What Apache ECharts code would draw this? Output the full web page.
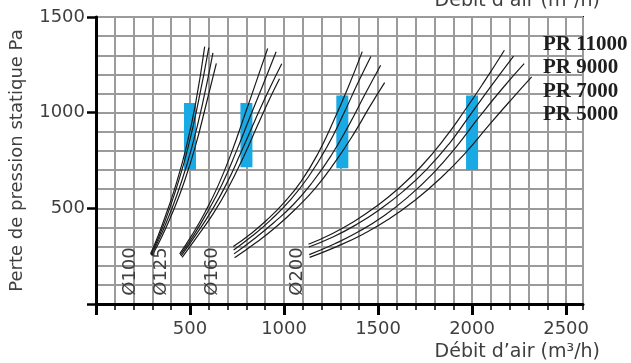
<!DOCTYPE html>
<html>
<head>
<meta charset="utf-8">
<script src="https://cdn.jsdelivr.net/npm/echarts@6/dist/echarts.min.js"></script>
<style>
  html, body { margin: 0; padding: 0; background: #fff; }
  #chart { width: 631px; height: 363px; }
</style>
</head>
<body>
<div id="chart"></div>
<script>
// etiquettes
var prLabels = ["PR 11000", "PR 9000", "PR 7000", "PR 5000"];
var diamLabels = ["Ø100", "Ø125", "Ø160", "Ø200"];
var xMajorTicks = [0, 500, 1000, 1500, 2000, 2500];
var yMajorTicks = [0, 500, 1000, 1500];

// courbes [débit m3/h, pression Pa]
var d100_pr11000 = [[290, 262], [330, 355], [380, 490], [430, 640], [480, 820], [530, 1050], [578, 1345]];
var d100_pr9000 = [[292, 258], [340, 365], [390, 495], [440, 645], [490, 820], [545, 1060], [600, 1340]];
var d100_pr7000 = [[295, 255], [345, 360], [400, 490], [455, 640], [510, 820], [565, 1040], [622, 1312]];
var d100_pr5000 = [[298, 252], [352, 355], [410, 485], [470, 640], [530, 830], [585, 1040], [640, 1258]];

var d125_pr11000 = [[445, 262], [510, 360], [580, 480], [650, 620], [720, 790], [790, 985], [855, 1170], [913, 1335]];
var d125_pr9000 = [[448, 256], [520, 360], [595, 485], [670, 625], [745, 795], [820, 980], [890, 1150], [958, 1318]];
var d125_pr7000 = [[452, 250], [530, 360], [610, 480], [690, 620], [770, 790], [850, 970], [920, 1120], [988, 1256]];
var d125_pr5000 = [[458, 244], [540, 355], [625, 475], [705, 610], [785, 770], [860, 935], [920, 1065], [976, 1177]];

var d160_pr11000 = [[730, 300], [820, 365], [910, 440], [1000, 530], [1090, 640], [1180, 785], [1265, 960], [1340, 1130], [1416, 1319]];
var d160_pr9000 = [[732, 282], [830, 355], [930, 440], [1030, 540], [1130, 665], [1225, 815], [1315, 990], [1390, 1150], [1462, 1294]];
var d160_pr7000 = [[734, 262], [840, 340], [945, 425], [1050, 520], [1150, 635], [1250, 775], [1345, 935], [1430, 1095], [1514, 1248]];
var d160_pr5000 = [[737, 242], [850, 320], [960, 405], [1065, 500], [1170, 610], [1270, 740], [1365, 880], [1455, 1030], [1535, 1157]];

var d200_pr11000 = [[1130, 312], [1250, 365], [1370, 430], [1490, 510], [1610, 605], [1730, 720], [1850, 860], [1960, 1010], [2070, 1170], [2172, 1326]];
var d200_pr9000 = [[1132, 298], [1260, 350], [1385, 415], [1510, 495], [1635, 590], [1760, 705], [1880, 840], [1995, 995], [2110, 1150], [2221, 1295]];
var d200_pr7000 = [[1134, 258], [1270, 315], [1400, 380], [1530, 460], [1660, 560], [1790, 680], [1915, 820], [2040, 980], [2160, 1125], [2277, 1256]];
var d200_pr5000 = [[1136, 244], [1280, 300], [1420, 365], [1560, 445], [1700, 545], [1835, 660], [1965, 790], [2090, 935], [2210, 1070], [2317, 1187]];

// zones bleues : débit, pression min, pression max
var zoneX = [500, 800, 1310, 2000];
var zoneMin = [700, 715, 710, 700];
var zoneMax = [1050, 1050, 1090, 1090];

var curves = [
  d100_pr11000, d100_pr9000, d100_pr7000, d100_pr5000,
  d125_pr11000, d125_pr9000, d125_pr7000, d125_pr5000,
  d160_pr11000, d160_pr9000, d160_pr7000, d160_pr5000,
  d200_pr11000, d200_pr9000, d200_pr7000, d200_pr5000
];

var labelColor = "#3f3f3f";
var gridColor = "#9b9b9b";
var font = "DejaVu Sans";

var myChart = echarts.init(document.getElementById("chart"));

var series = [{
  type: "custom",
  xAxisIndex: 0,
  yAxisIndex: 0,
  z: 2,
  data: zoneX.map(function (x, i) { return [x, zoneMin[i], zoneMax[i]]; }),
  renderItem: function (params, api) {
    var top = api.coord([api.value(0), api.value(2)]);
    var bottom = api.coord([api.value(0), api.value(1)]);
    return {
      type: "rect",
      shape: { x: top[0] - 6, y: top[1], width: 12, height: bottom[1] - top[1] },
      style: { fill: "#19a9e4" }
    };
  }
}];

curves.forEach(function (c) {
  series.push({
    type: "line",
    xAxisIndex: 0,
    yAxisIndex: 0,
    z: 3,
    smooth: 0.5,
    showSymbol: false,
    silent: true,
    lineStyle: { color: "#1b1b1b", width: 1.2 },
    data: c
  });
});

var graphics = [];
// titre haut (coupé)
graphics.push({
  type: "text", x: 600, y: 11,
  style: { text: "Débit d’air (m³/h)", font: "19px " + font, fill: labelColor, textAlign: "right", textVerticalAlign: "bottom" }
});
// titre bas
graphics.push({
  type: "text", x: 600, y: 352,
  style: { text: "Débit d’air (m³/h)", font: "19px " + font, fill: labelColor, textAlign: "right", textVerticalAlign: "middle" }
});
// légende PR
var prY = [45, 68, 91.5, 115];
prLabels.forEach(function (t, i) {
  graphics.push({
    type: "text", x: 543, y: prY[i], z: 10,
    style: { text: t, font: "bold 21px 'Liberation Serif'", fill: "#1e1e1e", textAlign: "left", textVerticalAlign: "middle" }
  });
});
// diamètres
var diamX = [130.5, 161.5, 212, 297];
diamLabels.forEach(function (t, i) {
  graphics.push({
    type: "text", x: diamX[i], y: 271.5, rotation: Math.PI / 2, z: 10,
    style: { text: t, font: "18px " + font, fill: labelColor, textAlign: "center", textVerticalAlign: "middle" }
  });
});

function plain(v) { return String(v); }

myChart.setOption({
  animation: false,
  grid: {
    left: 91, top: 17, width: 492, height: 287,
    show: true, borderColor: "#111", borderWidth: 2, backgroundColor: "transparent"
  },
  xAxis: [{
    type: "value", min: 0, max: 2590, interval: 100,
    axisLine: { lineStyle: { color: "#000", width: 3 } },
    axisTick: { length: 6, lineStyle: { color: "#000", width: 1.5 } },
    axisLabel: { show: false },
    splitLine: { lineStyle: { color: gridColor, width: 2 } }
  }, {
    type: "value", min: 0, max: 2590, position: "bottom",
    axisLine: { show: false },
    axisTick: { length: 11, customValues: xMajorTicks, lineStyle: { color: "#000", width: 3 } },
    axisLabel: {
      customValues: xMajorTicks.slice(1), margin: 16, formatter: plain,
      fontFamily: font, fontSize: 18, color: labelColor
    },
    splitLine: { show: false }
  }],
  yAxis: [{
    type: "value", min: 0, max: 1500, interval: 100,
    axisLine: { show: true, lineStyle: { color: "#000", width: 3 } },
    axisTick: { show: false },
    axisLabel: { show: false },
    splitLine: { lineStyle: { color: gridColor, width: 2 } },
    name: "Perte de pression statique Pa",
    nameLocation: "middle", nameGap: 70, nameRotate: 90,
    nameTextStyle: { fontFamily: font, fontSize: 18, color: labelColor }
  }, {
    type: "value", min: 0, max: 1500, position: "left",
    axisLine: { show: false },
    axisTick: { show: true, length: 9, customValues: yMajorTicks, lineStyle: { color: "#000", width: 2.5 } },
    axisLabel: {
      customValues: yMajorTicks.slice(1), margin: 11, formatter: plain,
      fontFamily: font, fontSize: 18, color: labelColor
    },
    splitLine: { show: false }
  }],
  graphic: graphics,
  series: series
});
</script>
</body>
</html>
